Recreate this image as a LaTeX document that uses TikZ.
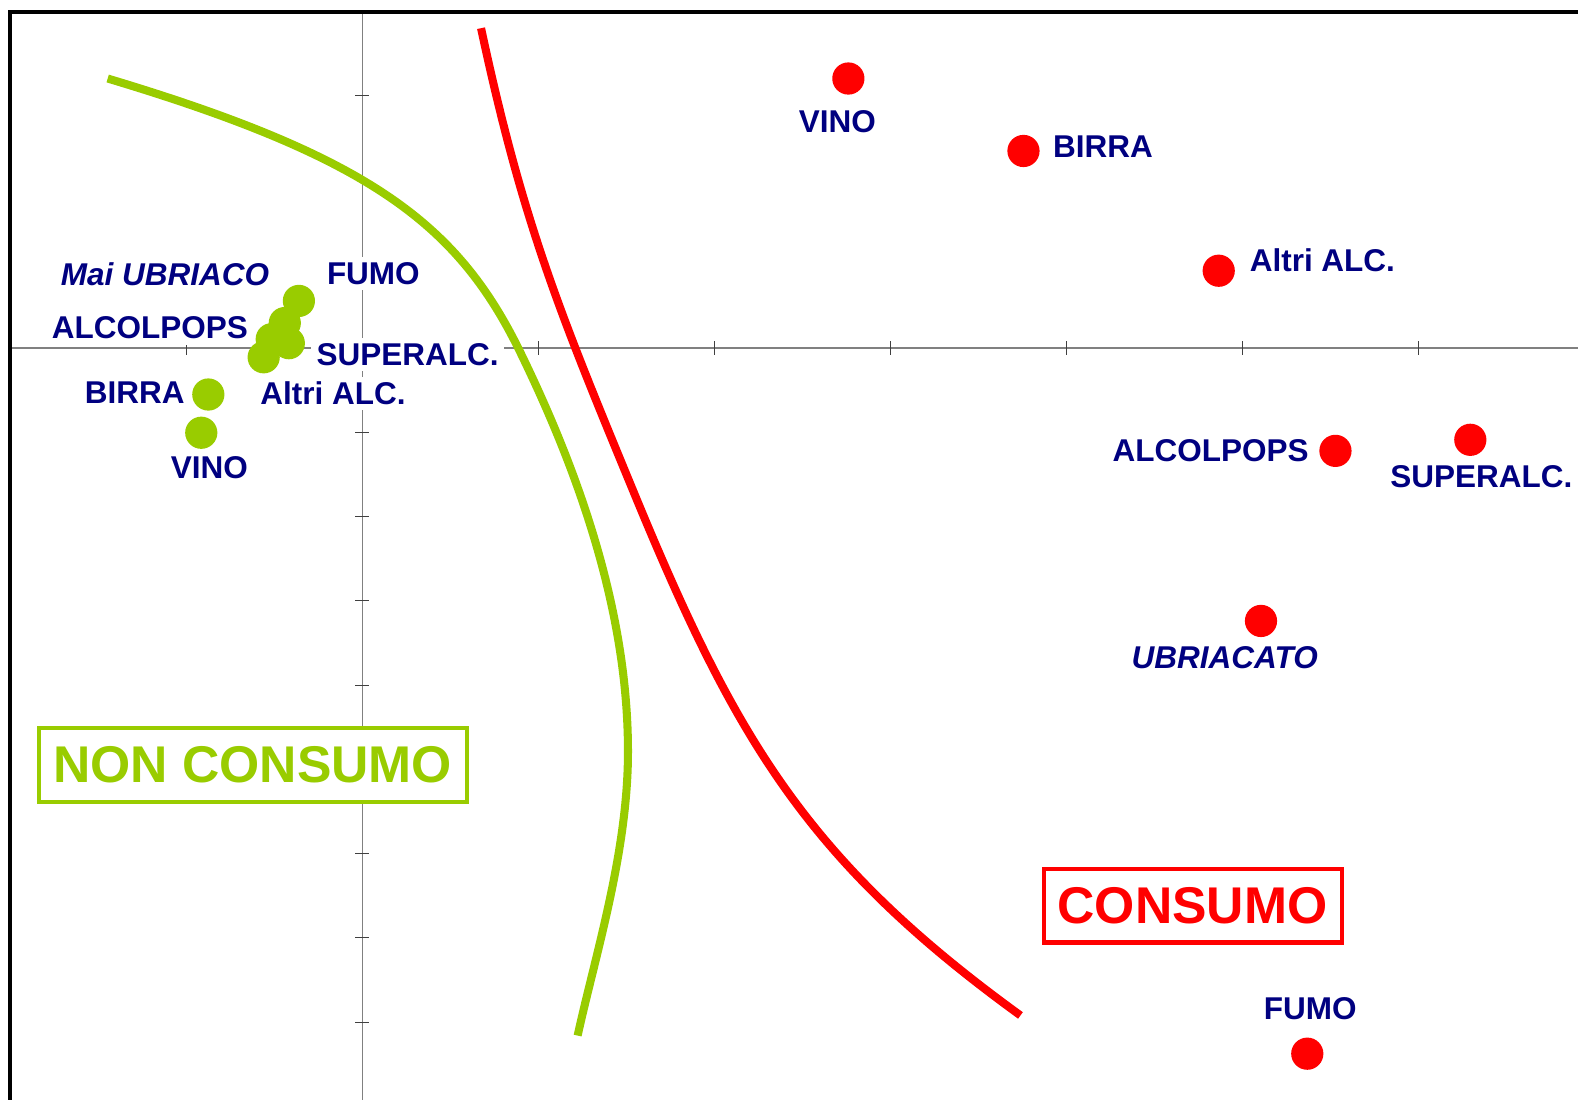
\documentclass[tikz,border=0pt]{standalone}
\usepackage{fontspec}
\setmainfont{Liberation Sans}
\usepackage{tikz}

\definecolor{nongreen}{RGB}{153,204,0}
\definecolor{conred}{RGB}{255,0,0}
\definecolor{lblblue}{RGB}{0,0,128}

\begin{document}
\begin{tikzpicture}[x=0.01cm,y=-0.01cm,
    dotg/.style={circle,fill=nongreen,inner sep=0,minimum size=0.32cm},
    dotr/.style={circle,fill=conred,inner sep=0,minimum size=0.32cm},
    lbl/.style={fill=white,inner sep=1.5pt,text=lblblue,font=\fontsize{8.9}{10}\selectfont\bfseries},
    lbli/.style={lbl,font=\fontsize{8.9}{10}\selectfont\bfseries\itshape},
    axis/.style={draw=gray,line width=0.015cm},
    tick/.style={draw=black!75,line width=0.01cm},
    border/.style={line width=0.08cm},
    bigbox/.style={fill=white,line width=0.04cm,inner sep=0,font=\fontsize{14.6}{16}\selectfont\bfseries}]
    \useasboundingbox (0,0) rectangle (1568,1093);

    %% frame and axes
    \draw[line width=0.045cm] (10,1093) -- (10,12) -- (1568,12);
    \draw[axis] (12,346) -- (1568,346);
    \draw[axis] (360,14) -- (360,1093);
    \foreach \k in {-1,1,2,...,6}
      \draw[tick] ({360+175*\k},339) -- ({360+175*\k},353);
    \foreach \k in {-3,-1,1,2,...,8}
      \draw[tick] (353,{346+83.7*\k}) -- (367,{346+83.7*\k});

    %% non consumo
    \node[dotg] (gUbr) at (283,321) {};
    \node[dotg] (gAlcol) at (270,337) {};
    \node[dotg] (gFumo) at (297,299) {};
    \node[dotg] (gSuper) at (287,341) {};
    \node[dotg] (gAltri) at (262,355) {};
    \node[dotg] (gBirra) at (207,392) {};
    \node[dotg] (gVino) at (200,430) {};

    \node[lbli] (gUbrL) at (164,272) {Mai UBRIACO};
    \node[lbl] (gFumoL) at (371,272) {FUMO};
    \node[lbl] (gAlcolL) at (149,326) {ALCOLPOPS};
    \node[lbl] (gSuperL) at (405,352) {SUPERALC.};
    \node[lbl] (gBirraL) at (134,390) {BIRRA};
    \node[lbl] (gAltriL) at (331,391) {Altri ALC.};
    \node[lbl] (gVinoL) at (208,465) {VINO};

    %% consumo
    \node[dotr] (rVino) at (843,78) {};
    \node[dotr] (rBirra) at (1017,150) {};
    \node[dotr] (rAltri) at (1211,269) {};
    \node[dotr] (rAlcol) at (1327,448) {};
    \node[dotr] (rSuper) at (1461,437) {};
    \node[dotr] (rUbr) at (1253,617) {};
    \node[dotr] (rFumo) at (1299,1047) {};

    \node[lbl] (rVinoL) at (832,121) {VINO};
    \node[lbl] (rBirraL) at (1096,146) {BIRRA};
    \node[lbl] (rAltriL) at (1314,259) {Altri ALC.};
    \node[lbl] (rAlcolL) at (1203,448) {ALCOLPOPS};
    \node[lbl] (rSuperL) at (1472,474) {SUPERALC.};
    \node[lbli] (rUbrL) at (1217,653) {UBRIACATO};
    \node[lbl] (rFumoL) at (1302,1002) {FUMO};

    %% separating curves
    \draw[border,nongreen] (107,78) .. controls (367,156) and (454,222) .. (516,348)
      .. controls (582,483) and (624,617) .. (624,747)
      .. controls (624,847) and (591,951) .. (574,1029);
    \draw[border,conred] (478,28) .. controls (520,224) and (557,313) .. (633,497)
      .. controls (732,736) and (803,856) .. (1014,1009);

    %% group boxes
    \node[bigbox,draw=nongreen,text=nongreen,minimum width=4.25cm,minimum height=0.73cm] (nonCons) at (251,760) {NON CONSUMO};
    \node[bigbox,draw=conred,text=conred,minimum width=2.96cm,minimum height=0.73cm] (cons) at (1185,900) {CONSUMO};
\end{tikzpicture}
\end{document}
